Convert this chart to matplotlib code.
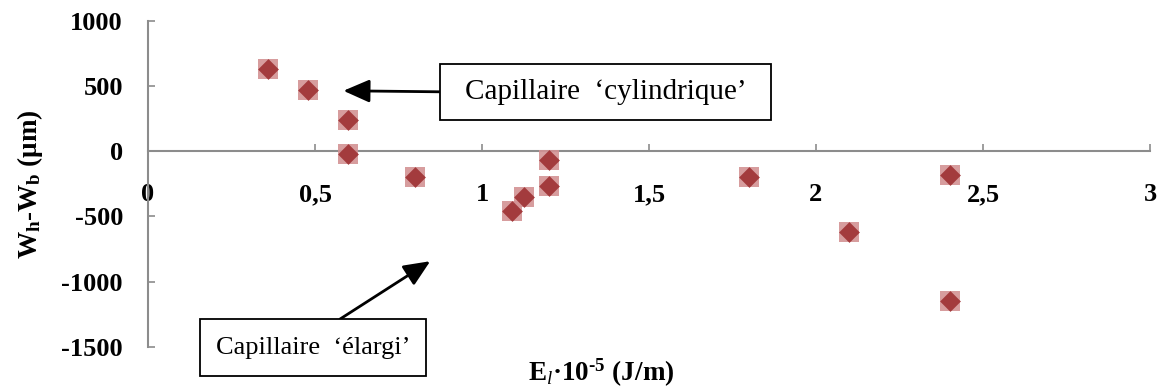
import matplotlib
matplotlib.use("Agg")
import matplotlib.pyplot as plt
from matplotlib.patches import Rectangle

# values
energy = [0.36, 0.48, 0.60, 0.60, 0.80, 1.09, 1.125, 1.20, 1.20, 1.80, 2.10, 2.40, 2.40]
dw = [630, 470, 240, -20, -200, -460, -350, -70, -265, -195, -620, -180, -1150]
x_ticks = [0, 0.5, 1, 1.5, 2, 2.5, 3]
x_labels = ["0", "0,5", "1", "1,5", "2", "2,5", "3"]
y_ticks = [-1500, -1000, -500, 0, 500, 1000]

plt.rcParams["font.family"] = ["Liberation Serif", "DejaVu Serif"]
plt.rcParams["mathtext.fontset"] = "custom"
plt.rcParams["mathtext.rm"] = "Liberation Serif"
plt.rcParams["mathtext.bf"] = "Liberation Serif:bold"
plt.rcParams["mathtext.it"] = "Liberation Serif:italic"

fig = plt.figure(figsize=(11.64, 3.88), dpi=100)
ax = fig.add_axes([148 / 1164, 1 - 347 / 388, 1002 / 1164, 326.5 / 388])

# light square behind a dark diamond, like the Excel marker
ax.scatter(energy, dw, marker="s", s=225, color="#d39294", alpha=0.9, linewidths=0, zorder=3)
ax.scatter(energy, dw, marker="D", s=112, color="#a33b3d", linewidths=0, zorder=4)

ax.set_xlim(0, 3)
ax.set_ylim(-1500, 1000)
ax.spines["top"].set_visible(False)
ax.spines["right"].set_visible(False)
ax.spines["bottom"].set_position(("data", 0))
for s in ("left", "bottom"):
    ax.spines[s].set_color("#8c8c8c")
    ax.spines[s].set_linewidth(1.5)

ax.set_xticks(x_ticks)
ax.set_xticklabels(x_labels, fontsize=19, fontweight="bold")
ax.set_yticks(y_ticks)
ax.set_yticklabels([str(v) for v in y_ticks], fontsize=19, fontweight="bold")
ax.tick_params(axis="both", direction="in", length=5, width=1.2, color="#8c8c8c")
ax.tick_params(axis="x", pad=23)
ax.tick_params(axis="y", pad=18)

ax.set_ylabel(r"W$_\mathbf{h}$-W$_\mathbf{b}$ (μm)", fontsize=19.5, fontweight="bold", labelpad=12)
fig.text(601 / 1164, 1 - 381 / 388, "E$_{\\mathit{l}}$·10$^{\\mathbf{\u2010}\\mathbf{5}}$ (J/m)",
         fontsize=19.5, fontweight="bold", ha="center", va="baseline")

# annotation boxes
ax.add_patch(Rectangle((0.874, 240), 0.991, 428, fc="white", ec="black", lw=1.3, zorder=5))
ax.text(1.37, 454, "Capillaire  ‘cylindrique’", fontsize=21, ha="center", va="center", zorder=6)
ax.add_patch(Rectangle((0.156, -1721), 0.676, 435, fc="white", ec="black", lw=1.3,
                       zorder=5, clip_on=False))
ax.text(0.494, -1504, "Capillaire  ‘élargi’", fontsize=19, ha="center", va="center",
        zorder=6, clip_on=False)

arrow = dict(arrowstyle="-|>,head_length=0.8,head_width=0.35", color="black", lw=2,
             shrinkA=0, shrinkB=0, mutation_scale=20)
ax.annotate("", xy=(0.585, 462), xytext=(0.874, 454), arrowprops=arrow)
ax.annotate("", xy=(0.845, -843), xytext=(0.575, -1286), arrowprops=arrow,
            annotation_clip=False)

fig.savefig("out.png", dpi=100)
